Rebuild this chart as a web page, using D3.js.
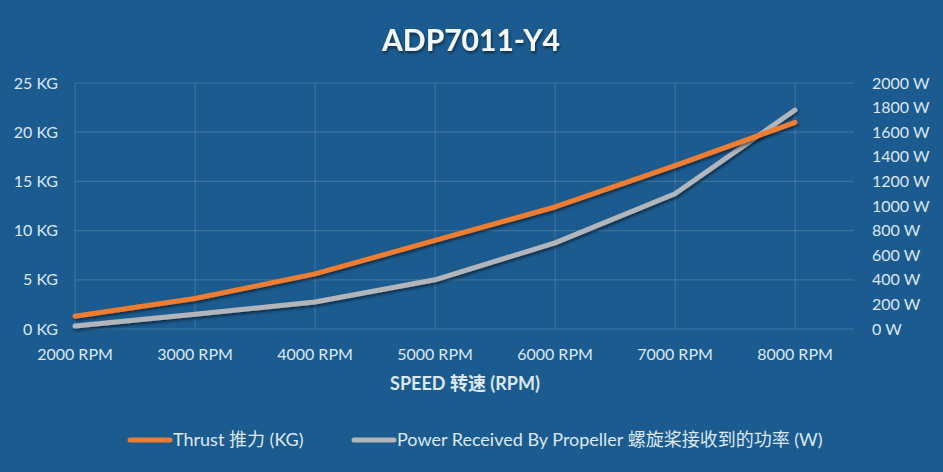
<!DOCTYPE html>
<html>
<head>
<meta charset="utf-8">
<script src="https://cdn.jsdelivr.net/npm/d3@7"></script>
<style>
  body { margin: 0; background: #1b5b8f; }
  text { font-family: Lato, "Noto Sans CJK SC", sans-serif; }
</style>
</head>
<body>
<div id="chart"></div>
<script>
var speeds = ["2000 RPM", "3000 RPM", "4000 RPM", "5000 RPM", "6000 RPM", "7000 RPM", "8000 RPM"];
var thrust = [1.3, 3.1, 5.6, 9.0, 12.4, 16.6, 21.0];   // KG
var power = [25, 120, 220, 400, 700, 1100, 1780];      // W
var kgTicks = [0, 5, 10, 15, 20, 25];
var wTicks = [0, 200, 400, 600, 800, 1000, 1200, 1400, 1600, 1800, 2000];

var width = 943, height = 472;
var plotLeft = 75, plotRight = 854, plotTop = 83, plotBottom = 329;
var textColor = "#dde8f3";

var svg = d3.select("#chart").append("svg")
    .attr("width", width)
    .attr("height", height);

svg.append("rect").attr("width", width).attr("height", height).attr("fill", "#1b5b8f");

var defs = svg.append("defs");
var f = defs.append("filter").attr("id", "shadow")
    .attr("x", "-10%").attr("y", "-10%").attr("width", "120%").attr("height", "130%");
f.append("feDropShadow").attr("dx", 1).attr("dy", 2).attr("stdDeviation", 1.5)
    .attr("flood-color", "#000").attr("flood-opacity", 0.55);

var x = d3.scalePoint().domain(speeds).range([plotLeft, 795]);
var yKg = d3.scaleLinear().domain([0, 25]).range([plotBottom, plotTop]);
var yW = d3.scaleLinear().domain([0, 2000]).range([plotBottom, plotTop]);

// gridlines
svg.append("g").selectAll("line").data(kgTicks).enter().append("line")
    .attr("x1", plotLeft).attr("x2", plotRight)
    .attr("y1", d => yKg(d)).attr("y2", d => yKg(d))
    .attr("stroke", "rgba(255,255,255,0.14)").attr("stroke-width", 1.2);
svg.append("g").selectAll("line").data(speeds).enter().append("line")
    .attr("x1", d => x(d)).attr("x2", d => x(d))
    .attr("y1", plotTop).attr("y2", plotBottom)
    .attr("stroke", "rgba(255,255,255,0.14)").attr("stroke-width", 1.2);

// axis labels
svg.append("g").selectAll("text").data(kgTicks).enter().append("text")
    .attr("x", 58).attr("y", d => yKg(d)).attr("dy", "0.35em")
    .attr("text-anchor", "end").attr("fill", textColor).attr("font-size", 16)
    .text(d => d + " KG");
svg.append("g").selectAll("text").data(wTicks).enter().append("text")
    .attr("x", 872).attr("y", d => yW(d)).attr("dy", "0.35em")
    .attr("fill", textColor).attr("font-size", 16)
    .text(d => d + " W");
svg.append("g").selectAll("text").data(speeds).enter().append("text")
    .attr("x", d => x(d)).attr("y", 354).attr("dy", "0.35em")
    .attr("text-anchor", "middle").attr("fill", textColor).attr("font-size", 16)
    .text(d => d);

// lines
var lineKg = d3.line().x((d, i) => x(speeds[i])).y(d => yKg(d));
var lineW = d3.line().x((d, i) => x(speeds[i])).y(d => yW(d));

svg.append("path").datum(power)
    .attr("d", lineW).attr("fill", "none")
    .attr("stroke", "#b2b6ba").attr("stroke-width", 5)
    .attr("stroke-linecap", "round").attr("stroke-linejoin", "round")
    .attr("filter", "url(#shadow)");
svg.append("path").datum(thrust)
    .attr("d", lineKg).attr("fill", "none")
    .attr("stroke", "#ee7d31").attr("stroke-width", 5)
    .attr("stroke-linecap", "round").attr("stroke-linejoin", "round")
    .attr("filter", "url(#shadow)");

// title
svg.append("text").attr("x", 471).attr("y", 40).attr("dy", "0.35em")
    .attr("text-anchor", "middle").attr("fill", "#f4f8fc")
    .attr("font-size", 30).attr("font-weight", "bold")
    .attr("font-family", "'Open Sans', sans-serif")
    .attr("filter", "url(#shadow)")
    .text("ADP7011-Y4");

svg.append("text").attr("x", 465).attr("y", 384).attr("dy", "0.35em")
    .attr("text-anchor", "middle").attr("fill", textColor)
    .attr("font-size", 18).attr("font-weight", "bold")
    .text("SPEED 转速 (RPM)");

// legend
var legend = [
  { name: "Thrust 推力 (KG)", color: "#ee7d31", x: 130 },
  { name: "Power Received By Propeller 螺旋桨接收到的功率 (W)", color: "#b2b6ba", x: 354 }
];
var lg = svg.append("g").selectAll("g").data(legend).enter().append("g");
lg.append("line")
    .attr("x1", d => d.x).attr("x2", d => d.x + 40)
    .attr("y1", 440).attr("y2", 440)
    .attr("stroke", d => d.color).attr("stroke-width", 5)
    .attr("stroke-linecap", "round");
lg.append("text")
    .attr("x", d => d.x + 43).attr("y", 440).attr("dy", "0.35em")
    .attr("fill", textColor).attr("font-size", 18)
    .text(d => d.name);
</script>
</body>
</html>
